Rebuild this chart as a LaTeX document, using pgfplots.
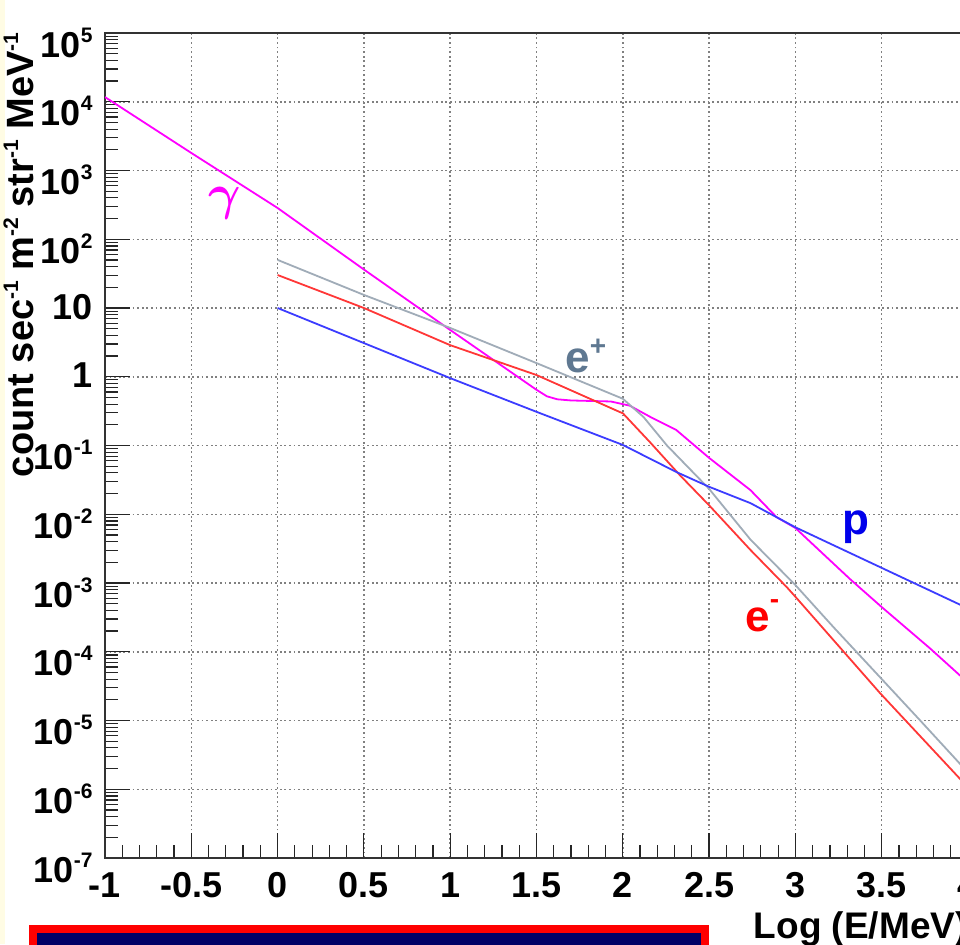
\documentclass[border=0pt]{standalone}
\usepackage{fontspec}
\setmainfont{Liberation Sans}
\usepackage{pgfplots}
\pgfplotsset{compat=1.18}

\definecolor{gamcol}{RGB}{255,0,255}
\definecolor{eplus}{RGB}{160,172,184}
\definecolor{epluslab}{RGB}{95,120,145}
\definecolor{eminus}{RGB}{255,55,55}
\definecolor{pcol}{RGB}{60,60,255}
\definecolor{plab}{RGB}{0,0,235}
\definecolor{navy}{RGB}{0,0,102}
\definecolor{cream}{RGB}{255,252,228}

% superscript used in tick labels and axis label
\newcommand{\ex}[1]{\raisebox{7.5pt}{\fontsize{10.5}{10.5}\selectfont #1}}

\begin{document}
\begin{tikzpicture}
\path[use as bounding box, clip] (-52.5pt,-43pt) rectangle (427.5pt,429pt);
\fill[white] (-52.5pt,-43pt) rectangle (427.5pt,429pt);
\fill[cream] (-52.5pt,-43pt) rectangle (-50pt,429pt);
\begin{axis}[
  scale only axis,
  width=431.5pt, height=412.5pt,
  xmin=-1, xmax=4,
  ymode=log, ymin=1e-7, ymax=1e5,
  xtick={-1,-0.5,0,0.5,1,1.5,2,2.5,3,3.5,4},
  xticklabels={-1,-0.5,0,0.5,1,1.5,2,2.5,3,3.5,4},
  minor x tick num=4,
  ytick={1e-7,1e-6,1e-5,1e-4,1e-3,1e-2,1e-1,1,10,100,1e3,1e4,1e5},
  yticklabels={10\ex{-7},10\ex{-6},10\ex{-5},10\ex{-4},10\ex{-3},10\ex{-2},10\ex{-1},
    \raisebox{6.5pt}{1},\raisebox{6.5pt}{10},10\ex{2},10\ex{3},10\ex{4},10\ex{5}},
  minor ytick={
    2e-7,3e-7,4e-7,5e-7,6e-7,7e-7,8e-7,9e-7,
    2e-6,3e-6,4e-6,5e-6,6e-6,7e-6,8e-6,9e-6,
    2e-5,3e-5,4e-5,5e-5,6e-5,7e-5,8e-5,9e-5,
    2e-4,3e-4,4e-4,5e-4,6e-4,7e-4,8e-4,9e-4,
    2e-3,3e-3,4e-3,5e-3,6e-3,7e-3,8e-3,9e-3,
    2e-2,3e-2,4e-2,5e-2,6e-2,7e-2,8e-2,9e-2,
    0.2,0.3,0.4,0.5,0.6,0.7,0.8,0.9,
    2,3,4,5,6,7,8,9,
    20,30,40,50,60,70,80,90,
    200,300,400,500,600,700,800,900,
    2e3,3e3,4e3,5e3,6e3,7e3,8e3,9e3,
    2e4,3e4,4e4,5e4,6e4,7e4,8e4,9e4},
  tick pos=left,
  tick align=inside,
  major tick length=12.5pt, minor tick length=6.5pt,
  tick style={black!85, line width=0.6pt},
  axis line style={black!80, line width=1pt},
  grid=major,
  major grid style={black!50, line width=0.75pt, dash pattern=on 0.9pt off 1.4pt},
  tick label style={font=\bfseries\fontsize{18}{18}\selectfont, inner sep=0pt},
  xticklabel style={anchor=base, yshift=-19.5pt},
  yticklabel style={anchor=base east, xshift=-6pt, yshift=-12pt},
  xlabel={Log (E/MeV)},
  xlabel style={font=\bfseries\fontsize{18.5}{18.5}\selectfont, inner sep=0pt,
    at={(axis description cs:1,-0.097)}, anchor=base east},
  ylabel={count sec\ex{-1} m\ex{-2} str\ex{-1} MeV\ex{-1}},
  ylabel style={font=\bfseries\fontsize{19}{19}\selectfont, inner sep=0pt,
    at={(axis description cs:-0.0834,0.731)}, anchor=base},
]
% gamma
\addplot[gamcol, line width=0.9pt] coordinates {
  (-1,1.17e4) (-0.5,1.80e3) (0,2.85e2) (0.5,36.3) (1.0,4.79) (1.5,0.646)
  (1.56,0.52) (1.62,0.47) (1.7,0.452) (1.93,0.437) (2.04,0.380) (2.16,0.260) (2.31,0.168)
  (2.5,0.0661) (2.74,0.0224) (2.89,9.12e-3) (3.0,6.31e-3) (3.32,1.12e-3)
  (3.5,4.47e-4) (3.78,1.12e-4) (4.0,3.55e-5)
};
% e+
\addplot[eplus, line width=0.9pt] coordinates {
  (0,50.1) (0.5,15.5) (1.0,5.13) (1.5,1.58) (2.0,0.479) (2.12,0.26)
  (2.256,0.1) (2.5,0.0234) (2.74,4.27e-3) (3.0,9.33e-4) (3.22,2.29e-4)
  (3.49,4.27e-5) (3.72,1.02e-5) (3.95,2.40e-6) (4.0,1.78e-6)
};
% e-
\addplot[eminus, line width=0.9pt] coordinates {
  (0,30.2) (0.5,10) (1.0,2.88) (1.5,1.06) (1.98,0.309) (2.0,0.295)
  (2.16,0.110) (2.33,0.0372) (2.5,0.0135) (2.74,3.02e-3) (2.95,8.71e-4)
  (3.0,6.31e-4) (3.49,2.51e-5) (3.95,1.45e-6) (4.0,1.07e-6)
};
% p
\addplot[pcol, line width=0.9pt] coordinates {
  (0,10) (0.5,3.09) (1.0,0.955) (1.5,0.309) (2.0,0.102) (2.31,0.0412)
  (2.5,0.0251) (2.74,0.0145) (3.0,6.46e-3) (3.5,1.66e-3) (4.0,4.27e-4)
};
\node[gamcol, font=\fontsize{25}{25}\selectfont\boldmath, anchor=center] at (axis cs:-0.305,336) {$\gamma$};
\node[epluslab, font=\bfseries\fontsize{22}{22}\selectfont, anchor=base west, inner sep=0pt]
  at (axis cs:1.665,1.135) {e\raisebox{8.6pt}{\fontsize{14}{14}\selectfont +}};
\node[red, font=\bfseries\fontsize{22}{22}\selectfont, anchor=base west, inner sep=0pt]
  at (axis cs:2.708,1.94e-4) {e\raisebox{11.6pt}{\fontsize{14}{14}\selectfont -}};
\node[plab, font=\bfseries\fontsize{22}{22}\selectfont, anchor=base west, inner sep=0pt]
  at (axis cs:3.27,5.16e-3) {p};
\end{axis}
\fill[red] (-38pt,-33.5pt) rectangle (302pt,-60pt);
\fill[navy] (-34pt,-37.5pt) rectangle (298pt,-60pt);
\end{tikzpicture}
\end{document}
